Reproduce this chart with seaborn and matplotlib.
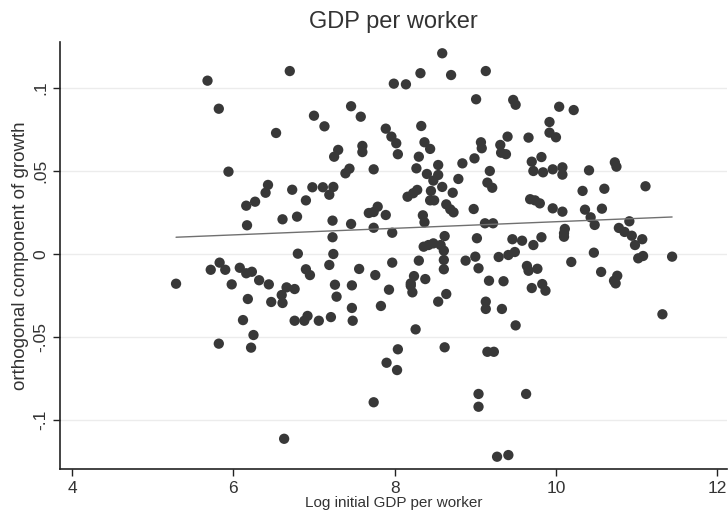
import numpy as np
import pandas as pd
import seaborn as sns
import matplotlib.pyplot as plt

# log initial GDP per worker vs orthogonal component of growth
log_gdp = [
    5.68, 5.82, 5.94, 6.70, 7.99, 7.46, 7.00, 7.58, 7.13, 7.89,
    6.53, 7.96, 8.02, 7.30, 7.25, 7.60, 7.60, 8.04, 7.44, 7.39,
    7.74, 6.43, 6.40, 6.73, 6.98, 7.11, 7.24, 7.19, 6.90, 6.27,
    6.16, 7.79, 7.68, 7.74, 7.89, 6.61, 6.79, 7.23, 7.46, 6.17,
    7.74, 7.97, 7.23, 8.59, 8.32, 8.70, 9.13, 8.14, 9.01, 9.47,
    9.50, 10.04, 8.33, 9.92, 9.92, 10.00, 9.40, 9.66, 8.37, 8.44,
    9.07, 9.08, 9.31, 9.32, 9.38, 8.30, 8.99, 9.82, 9.70, 8.54,
    8.84, 8.27, 9.18, 9.72, 9.84, 9.96, 8.40, 8.54, 8.48, 8.79,
    9.15, 9.21, 8.59, 8.45, 8.72, 8.28, 8.23, 8.16, 8.44, 8.49,
    8.64, 8.69, 8.73, 8.98, 9.68, 9.74, 9.80, 9.96, 8.35,
    8.37, 9.12, 9.22, 8.62, 9.02, 9.46, 9.58, 9.82, 9.72, 8.36,
    8.48, 8.57, 8.42, 10.22, 10.73, 10.75, 10.08, 10.08, 10.41, 11.11, 10.33,
    10.60, 10.08, 10.36, 10.57, 10.43, 10.48, 10.91, 10.78, 10.85, 10.94,
    11.07, 10.98, 10.11, 10.10, 10.10, 5.29, 5.72, 5.83, 5.90, 5.98,
    6.08, 5.82, 6.80, 7.24, 7.19, 6.16, 6.23, 6.90, 6.95, 7.56,
    7.76, 7.97, 6.32, 6.44, 6.66, 6.76, 7.26, 7.47, 7.93, 6.18,
    6.47, 6.60, 6.61, 7.28, 7.83, 7.47, 6.12, 6.76, 6.88, 6.92,
    7.06, 7.21, 7.48, 6.25, 6.22, 8.04, 7.90, 8.03, 7.74, 6.63,
    8.30, 8.61, 8.61, 8.61, 8.88, 9.00, 9.04, 9.29, 9.41, 9.49,
    9.64, 9.66, 9.77, 8.24, 8.20, 8.20, 8.22, 8.38, 9.17, 9.35, 9.70,
    9.83, 9.87, 8.54, 8.64, 9.13, 9.13, 9.33, 9.50, 8.26, 8.62,
    9.15, 9.23, 9.04, 9.04, 9.63, 9.27, 9.41, 10.47, 10.19, 11.02,
    11.08, 11.44, 10.56, 10.76, 10.72, 10.74, 11.32,
]
growth = [
    0.1044, 0.0875, 0.0496, 0.1102, 0.1026, 0.0890, 0.0833, 0.0827, 0.0769, 0.0755,
    0.0729, 0.0707, 0.0667, 0.0627, 0.0586, 0.0651, 0.0614, 0.0601, 0.0514, 0.0486,
    0.0510, 0.0416, 0.0369, 0.0387, 0.0402, 0.0402, 0.0404, 0.0357, 0.0323, 0.0315,
    0.0291, 0.0285, 0.0247, 0.0253, 0.0235, 0.0209, 0.0225, 0.0201, 0.0181, 0.0173,
    0.0158, 0.0128, 0.0101, 0.1209, 0.1089, 0.1078, 0.1102, 0.1022, 0.0932, 0.0928,
    0.0899, 0.0887, 0.0771, 0.0795, 0.0731, 0.0703, 0.0707, 0.0701, 0.0673, 0.0633,
    0.0673, 0.0637, 0.0657, 0.0610, 0.0601, 0.0586, 0.0576, 0.0584, 0.0556, 0.0536,
    0.0546, 0.0516, 0.0500, 0.0500, 0.0492, 0.0510, 0.0482, 0.0476, 0.0442, 0.0452,
    0.0430, 0.0399, 0.0404, 0.0380, 0.0369, 0.0386, 0.0366, 0.0345, 0.0323, 0.0323,
    0.0299, 0.0269, 0.0251, 0.0271, 0.0330, 0.0323, 0.0305, 0.0275, 0.0233,
    0.0191, 0.0185, 0.0185, 0.0108, 0.0095, 0.0089, 0.0080, 0.0101, 0.0054, 0.0044,
    0.0064, 0.0054, 0.0054, 0.0867, 0.0552, 0.0526, 0.0522, 0.0478, 0.0504, 0.0408, 0.0380,
    0.0393, 0.0255, 0.0267, 0.0273, 0.0221, 0.0175, 0.0197, 0.0157, 0.0133, 0.0110,
    0.0089, 0.0054, 0.0151, 0.0125, 0.0104, -0.0179, -0.0095, -0.0052, -0.0095, -0.0183,
    -0.0083, -0.0540, 0.0002, 0.0000, -0.0066, -0.0116, -0.0107, -0.0092, -0.0127, -0.0090,
    -0.0127, -0.0052, -0.0158, -0.0183, -0.0201, -0.0211, -0.0185, -0.0189, -0.0215, -0.0271,
    -0.0289, -0.0247, -0.0295, -0.0257, -0.0313, -0.0325, -0.0398, -0.0402, -0.0402, -0.0373,
    -0.0402, -0.0380, -0.0402, -0.0488, -0.0564, -0.0574, -0.0655, -0.0699, -0.0893, -0.1113,
    -0.0040, 0.0020, -0.0036, -0.0092, -0.0040, -0.0016, -0.0086, -0.0018, -0.0006, 0.0012,
    -0.0072, -0.0101, -0.0089, -0.0133, -0.0177, -0.0191, -0.0231, -0.0151, -0.0161, -0.0164, -0.0205,
    -0.0181, -0.0221, -0.0287, -0.0241, -0.0287, -0.0331, -0.0331, -0.0430, -0.0454, -0.0562,
    -0.0589, -0.0589, -0.0843, -0.0920, -0.0843, -0.1221, -0.1211, 0.0008, -0.0048, -0.0026,
    -0.0012, -0.0016, -0.0108, -0.0131, -0.0161, -0.0177, -0.0363,
]

# fitted line as drawn on the chart (end points)
fit_x = [5.29, 11.44]
fit_y = [0.0101, 0.0223]

x_ticks = [4, 6, 8, 10, 12]
y_ticks = [-0.1, -0.05, 0, 0.05, 0.1]
y_tick_labels = ["-.1", "-.05", "0", ".05", ".1"]

df = pd.DataFrame({"log_gdp": log_gdp, "growth": growth})

sns.set_theme(style="white")
plt.rcParams["font.family"] = ["Liberation Sans", "DejaVu Sans"]

fig = plt.figure(figsize=(7.28, 5.21), dpi=100)
ax = fig.add_axes([0.0824, 0.0998, 0.9166, 0.8196])

sns.scatterplot(data=df, x="log_gdp", y="growth", ax=ax, s=55,
                color="#383838", edgecolor="none", zorder=3)
sns.lineplot(x=fit_x, y=fit_y, ax=ax, color="#707070", lw=1.0, zorder=4)

ax.set_xlim(3.851, 12.124)
ax.set_ylim(-0.1295, 0.1277)
ax.set_xticks(x_ticks)
ax.set_yticks(y_ticks)
ax.set_yticklabels(y_tick_labels, rotation=90, va="center")
ax.tick_params(axis="both", which="major", direction="out", length=5, width=1,
               color="#222222", labelsize=12.5, labelcolor="#333333",
               bottom=True, left=True)
ax.yaxis.grid(True, color="#ececec", lw=1)
ax.xaxis.grid(False)

for side in ["top", "right"]:
    ax.spines[side].set_visible(False)
for side in ["left", "bottom"]:
    ax.spines[side].set_color("#222222")
    ax.spines[side].set_linewidth(1.2)

ax.set_xlabel("Log initial GDP per worker", fontsize=11, color="#333333", labelpad=0)
ax.set_ylabel("orthogonal component of growth", fontsize=13.5, color="#333333", labelpad=3)
ax.set_title("GDP per worker", fontsize=17, color="#333333", pad=10)

fig.savefig("out.png", dpi=100)
